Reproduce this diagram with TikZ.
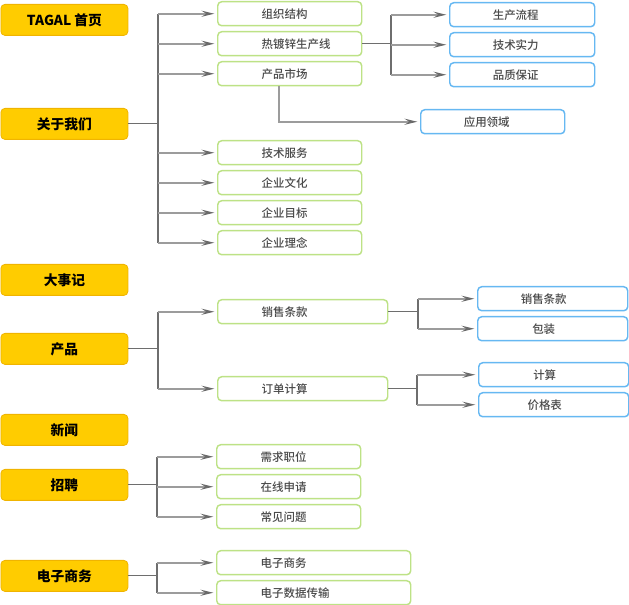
\documentclass[tikz,border=0pt]{standalone}
\usepackage{fontspec}
\setmainfont{Noto Sans CJK SC}
\newfontfamily\labelfont{Noto Sans CJK SC Medium}
\usetikzlibrary{arrows.meta,calc}

\definecolor{navfill}{HTML}{FFCC00}
\definecolor{navedge}{HTML}{F0B400}
\definecolor{subedge}{HTML}{BDE286}
\definecolor{leafedge}{HTML}{66B8F2}
\definecolor{labelgrey}{HTML}{4A4A4A}
\definecolor{stemgrey}{HTML}{6E6E6E}
\definecolor{branchgrey}{HTML}{9C9C9C}
\definecolor{tipgrey}{HTML}{6A6A6A}

\tikzset{
  navbox/.style={draw=navedge, fill=navfill, rounded corners=3pt, line width=0.6pt,
    minimum width=95.25pt, minimum height=23.25pt, inner sep=0pt, anchor=north west,
    font=\fontsize{10.3}{12}\selectfont\bfseries},
  subbox/.style={draw=subedge, fill=white, rounded corners=3pt, line width=1.1pt,
    text width=#1, minimum height=18pt, inner sep=0pt, anchor=north west,
    align=left, text=labelgrey, font=\labelfont\fontsize{8.6}{10}\selectfont,
    execute at begin node={\hbox\bgroup\hskip33pt},
    execute at end node={\egroup}},
  subbox/.default=108pt,
  leafbox/.style={draw=leafedge, fill=white, rounded corners=3pt, line width=1.1pt,
    text width=#1, minimum height=18pt, inner sep=0pt, anchor=north west,
    align=left, text=labelgrey, font=\labelfont\fontsize{8.6}{10}\selectfont,
    execute at begin node={\hbox to 99pt\bgroup\hss},
    execute at end node={\hss\egroup}},
  leafbox/.default=108.75pt,
  stem/.style={draw=stemgrey, line width=0.8pt},
  branch/.style={draw=branchgrey, line width=1.5pt, shorten >=2pt,
    -{Stealth[length=9.5pt, width=4.5pt, inset=3.5pt, color=tipgrey]}},
}

\begin{document}
\begin{tikzpicture}[x=0.75pt, y=-0.75pt]
  \useasboundingbox (0,0) rectangle (629,605);

  % junction columns
  \coordinate (j1) at (158,0);
  \coordinate (j2) at (391,0);
  \coordinate (j3) at (418,0);
  \coordinate (j4) at (417,0);
  \coordinate (j5) at (157,0);

  % top-level navigation
  \node[navbox] (home)   at (0.5,4)   {TAGAL 首页};
  \node[navbox] (about)  at (0.5,108) {关于我们};
  \node[navbox] (events) at (0.5,264) {大事记};
  \node[navbox] (prod)   at (0.5,333) {产品};
  \node[navbox] (news)   at (0.5,414) {新闻};
  \node[navbox] (jobs)   at (0.5,469) {招聘};
  \node[navbox] (ebiz)   at (0.5,560) {电子商务};

  % about us
  \node[subbox] (org)  at (217,1)   {组织结构};
  \node[subbox] (line) at (217,31)  {热镀锌生产线};
  \node[subbox] (mkt)  at (217,61)  {产品市场};
  \node[subbox] (svc)  at (217,140) {技术服务};
  \node[subbox] (cult) at (217,170) {企业文化};
  \node[subbox] (goal) at (217,200) {企业目标};
  \node[subbox] (idea) at (217,230) {企业理念};

  \node[leafbox] (flow) at (449,2)  {生产流程};
  \node[leafbox] (tech) at (449,32) {技术实力};
  \node[leafbox] (qa)   at (449,62) {品质保证};
  \node[leafbox=108pt] (apps) at (420,109) {应用领域};

  % products
  \node[subbox=127.5pt] (sale)  at (217,299) {销售条款};
  \node[subbox=127.5pt] (order) at (217,376) {订单计算};

  \node[leafbox=112.5pt] (terms) at (477,286) {销售条款};
  \node[leafbox=112.5pt] (pack)  at (477,316) {包装};
  \node[leafbox=112.5pt] (calc)  at (478,362) {计算};
  \node[leafbox=112.5pt] (price) at (478,392) {价格表};

  % jobs
  \node[subbox] (need)  at (216,444) {需求职位};
  \node[subbox] (apply) at (216,474) {在线申请};
  \node[subbox] (faq)   at (216,504) {常见问题};

  % e-business
  \node[subbox=145.5pt] (ec)  at (216,550) {电子商务};
  \node[subbox=145.5pt] (edi) at (216,580) {电子数据传输};

  % connectors: about us
  \draw[stem] (about.east) -- (about.east -| j1);
  \draw[stem] (org.west -| j1) -- (idea.west -| j1);
  \foreach \n in {org,line,mkt,svc,cult,goal,idea}
    \draw[branch] (\n.west -| j1) -- (\n.west);

  \draw[stem] (line.east) -- (line.east -| j2);
  \draw[stem] (flow.west -| j2) -- (qa.west -| j2);
  \foreach \n in {flow,tech,qa}
    \draw[branch] (\n.west -| j2) -- (\n.west);

  \draw[branch] ($(mkt.south west)+(62,0)$) |- (apps.west);

  % connectors: products
  \draw[stem] (prod.east) -- (prod.east -| j1);
  \draw[stem] (sale.west -| j1) -- (order.west -| j1);
  \foreach \n in {sale,order}
    \draw[branch] (\n.west -| j1) -- (\n.west);

  \draw[stem] (sale.east) -- (sale.east -| j3);
  \draw[stem] (terms.west -| j3) -- (pack.west -| j3);
  \foreach \n in {terms,pack}
    \draw[branch] (\n.west -| j3) -- (\n.west);

  \draw[stem] (order.east) -- (order.east -| j4);
  \draw[stem] (calc.west -| j4) -- (price.west -| j4);
  \foreach \n in {calc,price}
    \draw[branch] (\n.west -| j4) -- (\n.west);

  % connectors: jobs
  \draw[stem] (jobs.east) -- (jobs.east -| j5);
  \draw[stem] (need.west -| j5) -- (faq.west -| j5);
  \foreach \n in {need,apply,faq}
    \draw[branch] (\n.west -| j5) -- (\n.west);

  % connectors: e-business
  \draw[stem] (ebiz.east) -- (ebiz.east -| j5);
  \draw[stem] (ec.west -| j5) -- (edi.west -| j5);
  \foreach \n in {ec,edi}
    \draw[branch] (\n.west -| j5) -- (\n.west);
\end{tikzpicture}
\end{document}
